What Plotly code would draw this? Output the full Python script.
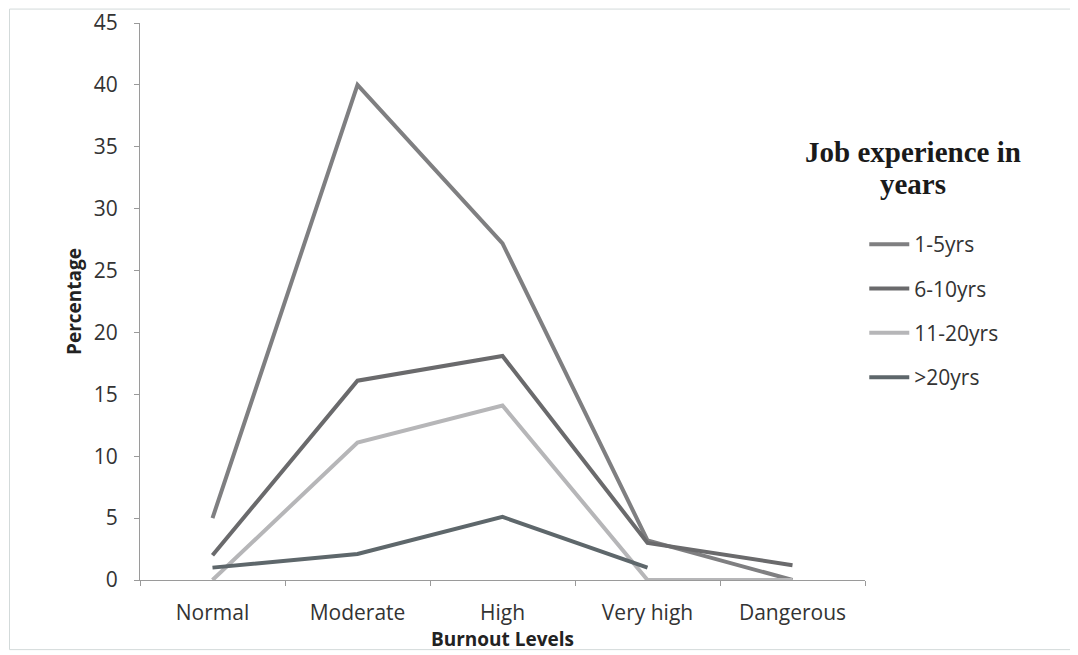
import plotly.graph_objects as go

levels = ["Normal", "Moderate", "High", "Very high", "Dangerous"]
yrs_1_5 = [5, 40, 27.2, 3.2, 0]
yrs_6_10 = [2, 16.1, 18.1, 3, 1.2]
yrs_11_20 = [0, 11.1, 14.1, 0, 0]
yrs_over_20 = [1, 2.1, 5.1, 1, None]

series = [
    ("1-5yrs", yrs_1_5, "#7f7f81"),
    ("6-10yrs", yrs_6_10, "#6a6a6c"),
    ("11-20yrs", yrs_11_20, "#b6b6b8"),
    (">20yrs", yrs_over_20, "#5e676b"),
]

fig = go.Figure()
for i, (name, vals, color) in enumerate(series):
    fig.add_trace(go.Scatter(
        x=levels, y=vals, name=name, mode="lines",
        line=dict(color=color, width=4),
        legendgroup=str(i), connectgaps=False,
    ))

tick_font = dict(family="Open Sans, Noto Sans, sans-serif", size=21, color="#333333")
title_font = dict(family="Open Sans, sans-serif", size=19, color="#222222")
fig.update_xaxes(
    type="category", range=[-0.5, 4.5], automargin=False,
    showgrid=False, zeroline=False,
    showline=True, linecolor="#9a9a9a", linewidth=1,
    ticks="outside", tickson="boundaries", ticklen=5, tickcolor="#9a9a9a",
    tickfont=tick_font, ticklabelstandoff=14,
    title=dict(text="<b>Burnout Levels</b>", font=title_font, standoff=0),
)
fig.update_yaxes(
    range=[0, 45], dtick=5, automargin=False,
    showgrid=False, zeroline=False,
    showline=True, linecolor="#9a9a9a", linewidth=1,
    ticks="outside", ticklen=5, tickcolor="#9a9a9a",
    tickfont=tick_font, ticklabelstandoff=12,
    title=dict(text="<b>Percentage</b>", font=title_font, standoff=7),
)

# legend heading, drawn as a separate serif block like the original
heading_font = dict(family="Liberation Serif, Times New Roman, serif", size=29, color="#1a1a1a")
fig.add_annotation(text="<b>Job experience in</b>", xref="paper", yref="paper",
                   x=1.066, y=0.768, xanchor="center", yanchor="middle",
                   showarrow=False, font=heading_font)
fig.add_annotation(text="<b>years</b>", xref="paper", yref="paper",
                   x=1.066, y=0.711, xanchor="center", yanchor="middle",
                   showarrow=False, font=heading_font)

fig.add_shape(type="rect", xref="paper", yref="paper", x0=-0.18, y0=-0.125, x1=1.291, y1=1.025,
              line=dict(color="#d3dada", width=1))

fig.update_layout(
    width=1078, height=655,
    plot_bgcolor="white", paper_bgcolor="white",
    margin=dict(l=132, r=221, t=15, b=83),
    showlegend=True,
    legend=dict(
        x=0.999, y=0.639, xanchor="left", yanchor="top",
        font=dict(family="Open Sans, sans-serif", size=21, color="#333333"),
        tracegroupgap=14, itemwidth=40, bgcolor="rgba(0,0,0,0)",
    ),
)

fig.write_html("out.html")
